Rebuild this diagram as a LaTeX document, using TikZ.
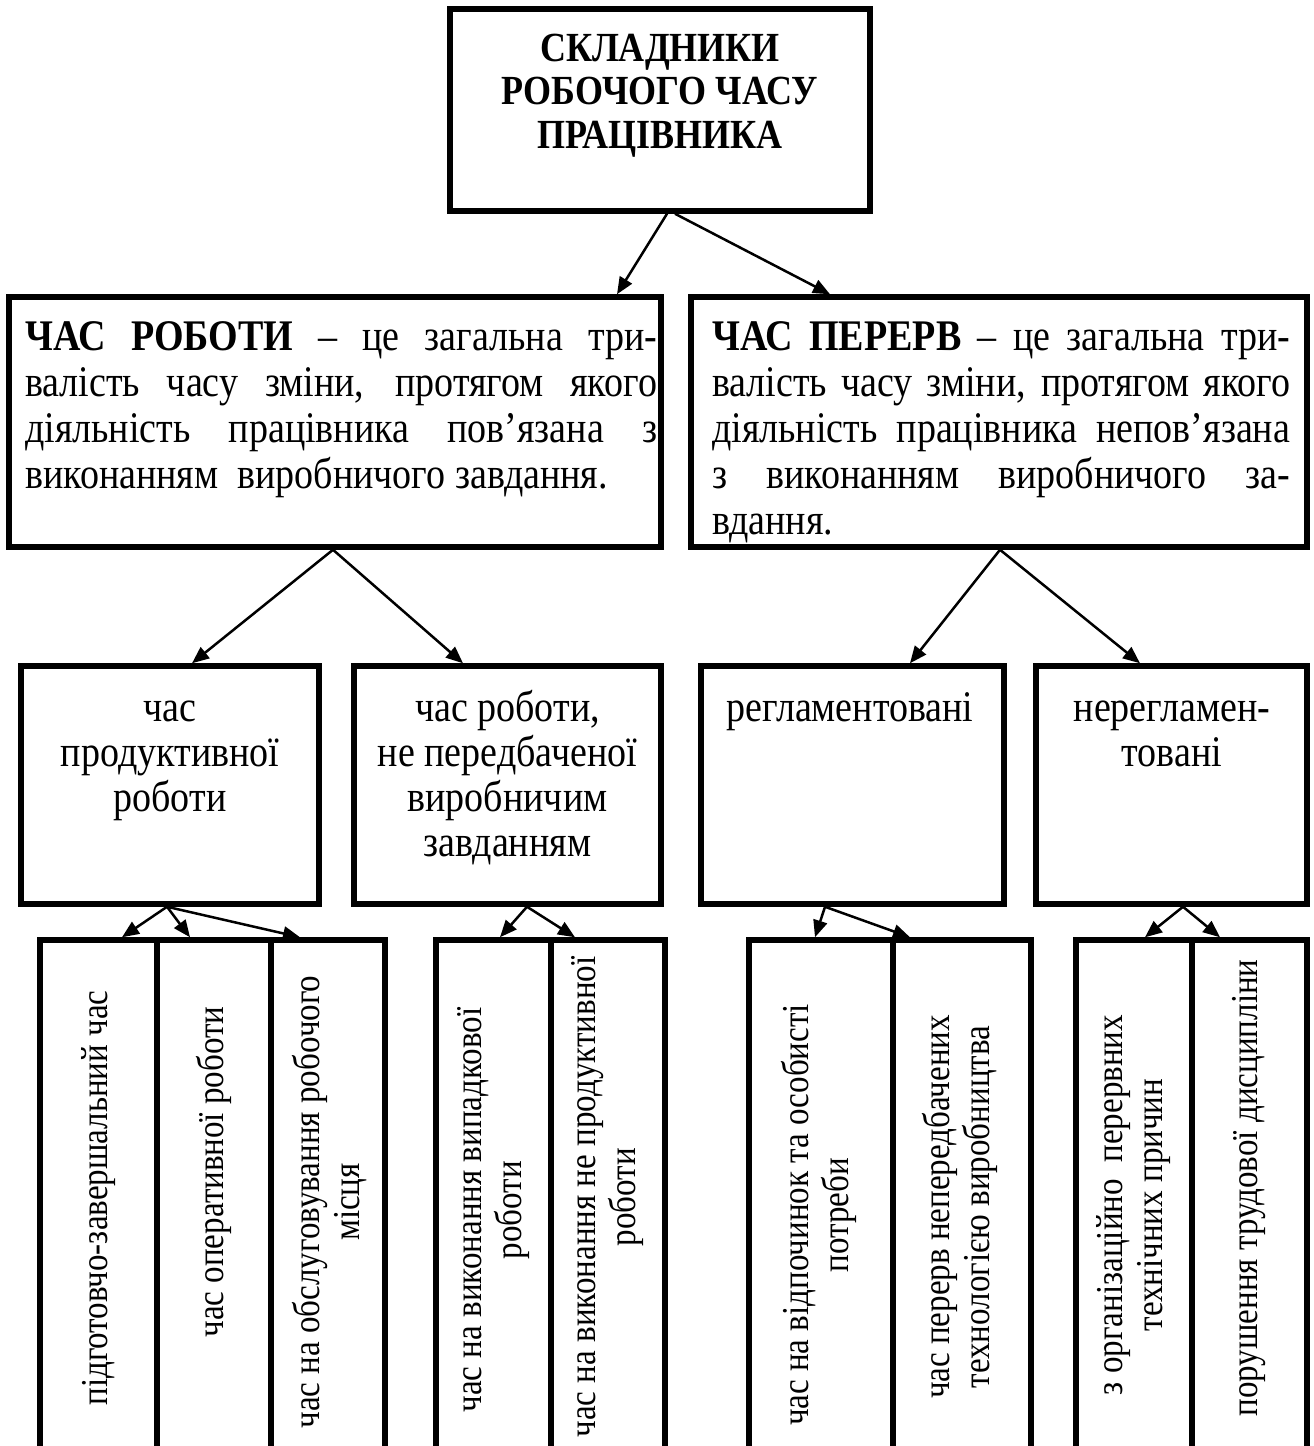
\documentclass[tikz,border=0pt]{standalone}
\usepackage{fontspec}
\setmainfont{Liberation Serif}[FakeStretch=0.87]
\usetikzlibrary{arrows.meta}
\begin{document}
\begin{tikzpicture}[x=1pt,y=-1pt,
  box/.style={draw,line width=5.5pt,inner sep=0pt},
  conn/.style={line width=2.5pt,-{Triangle[length=17pt,width=14pt]}},
  bodytxt/.style={inner sep=0pt,anchor=north west,align=left,font=\fontsize{43.7}{46}\selectfont},
  midtxt/.style={inner sep=0pt,anchor=north,align=center,font=\fontsize{43.7}{45}\selectfont},
  titletxt/.style={inner sep=0pt,anchor=north,align=center,font=\bfseries\fontsize{41.4}{43.5}\selectfont},
  rottxt/.style={inner sep=0pt,rotate=90,align=center,font=\fontsize{38}{40}\selectfont}]
\useasboundingbox (0,0) rectangle (1314,1446);
\clip (0,0) rectangle (1314,1446);
\fill[white] (0,0) rectangle (1314,1446);

% level 1
\node[box,minimum width=420pt,minimum height=202pt] (top) at (660,110) {};
\node[titletxt] (title) at (660,26) {\rule{0pt}{35pt}СКЛАДНИКИ\\РОБОЧОГО ЧАСУ\\ПРАЦІВНИКА};

% level 2
\node[box,minimum width=652pt,minimum height=250pt] (work) at (335,422) {};
\node[bodytxt] (worktext) at (25,314) {\rule{0pt}{36pt}\makebox[632pt][s]{\textbf{ЧАС РОБОТИ} – це загальна три-}\\
\makebox[632pt][s]{валість часу зміни, протягом якого}\\
\makebox[632pt][s]{діяльність працівника пов’язана з}\\
\makebox[632pt][l]{виконанням\ \ виробничого завдання.}};

\node[box,minimum width=616pt,minimum height=250pt] (pause) at (999,422) {};
\node[bodytxt] (pausetext) at (712,314) {\rule{0pt}{36pt}\makebox[578pt][s]{\textbf{ЧАС ПЕРЕРВ} – це загальна три-}\\
\makebox[578pt][s]{валість часу зміни, протягом якого}\\
\makebox[578pt][s]{діяльність працівника непов’язана}\\
\makebox[578pt][s]{з виконанням виробничого за-}\\
\makebox[578pt][l]{вдання.}};

% level 3
\node[box,minimum width=298pt,minimum height=238pt] (prod) at (170,785) {};
\node[midtxt] (prodtext) at (170,685) {\rule{0pt}{36pt}час\\продуктивної\\роботи};
\node[box,minimum width=307pt,minimum height=238pt] (nonprod) at (507.5,785) {};
\node[midtxt] (nonprodtext) at (507.5,685) {\rule{0pt}{36pt}час роботи,\\не передбаченої\\виробничим\\завданням};
\node[box,minimum width=303pt,minimum height=238pt] (reg) at (852.5,785) {};
\node[midtxt] (regtext) at (850,685) {\rule{0pt}{36pt}регламентовані};
\node[box,minimum width=271pt,minimum height=238pt] (nonreg) at (1171.5,785) {};
\node[midtxt] (nonregtext) at (1172,685) {\rule{0pt}{36pt}нерегламен-\\товані};

% level 4 columns
\node[box,minimum width=117pt,minimum height=530pt] (c1) at (98.5,1205) {};
\node[box,minimum width=114pt,minimum height=530pt] (c2) at (214,1205) {};
\node[box,minimum width=114pt,minimum height=530pt] (c3) at (328,1205) {};
\node[box,minimum width=115pt,minimum height=530pt] (c4) at (493.5,1205) {};
\node[box,minimum width=114pt,minimum height=530pt] (c5) at (608,1205) {};
\node[box,minimum width=144pt,minimum height=530pt] (c6) at (821,1205) {};
\node[box,minimum width=138pt,minimum height=530pt] (c7) at (962,1205) {};
\node[box,minimum width=116pt,minimum height=530pt] (c8) at (1134,1205) {};
\node[box,minimum width=115pt,minimum height=530pt] (c9) at (1249.5,1205) {};

\node[rottxt] (t1) at (98.5,1198) {підготовчо-завершальний час};
\node[rottxt] (t2) at (214,1172) {час оперативної роботи};
\node[rottxt] (t3) at (330,1202) {час на обслуговування робочого\\місця};
\node[rottxt] (t4) at (493.5,1210) {час на виконання випадкової\\роботи};
\node[rottxt] (t5) at (608,1197) {час на виконання не продуктивної\\роботи};
\node[rottxt] (t6) at (819,1215) {час на відпочинок та особисті\\потреби};
\node[rottxt] (t7) at (960,1207) {час перерв непередбачених\\технологією виробництва};
\node[rottxt] (t8) at (1134,1205) {з організаційно\ \ перервних\\технічних причин};
\node[rottxt] (t9) at (1249.5,1188) {порушення трудової дисципліни};

% connectors
\draw[conn] ([xshift=7pt]top.south) -- ([xshift=282pt]work.north);
\draw[conn] ([xshift=15pt]top.south) -- ([xshift=-169pt]pause.north);
\draw[conn] ([xshift=-2pt]work.south) -- ([xshift=22pt]prod.north);
\draw[conn] ([xshift=-2pt]work.south) -- ([xshift=-44.5pt]nonprod.north);
\draw[conn] ([xshift=1pt]pause.south) -- ([xshift=57.5pt]reg.north);
\draw[conn] ([xshift=1pt]pause.south) -- ([xshift=-31.5pt]nonreg.north);
\draw[conn] ([xshift=-3pt]prod.south) -- ([xshift=23.5pt]c1.north);
\draw[conn] ([xshift=-3pt]prod.south) -- ([xshift=-24pt]c2.north);
\draw[conn] ([xshift=-3pt]prod.south) -- ([xshift=-28pt]c3.north);
\draw[conn] ([xshift=19.5pt]nonprod.south) -- ([xshift=6.5pt]c4.north);
\draw[conn] ([xshift=19.5pt]nonprod.south) -- ([xshift=-33pt]c5.north);
\draw[conn] ([xshift=-27.5pt]reg.south) -- ([xshift=-6pt]c6.north);
\draw[conn] ([xshift=-27.5pt]reg.south) -- ([xshift=-52pt]c7.north);
\draw[conn] ([xshift=11.5pt]nonreg.south) -- ([xshift=11pt]c8.north);
\draw[conn] ([xshift=11.5pt]nonreg.south) -- ([xshift=-29.5pt]c9.north);
\end{tikzpicture}
\end{document}
